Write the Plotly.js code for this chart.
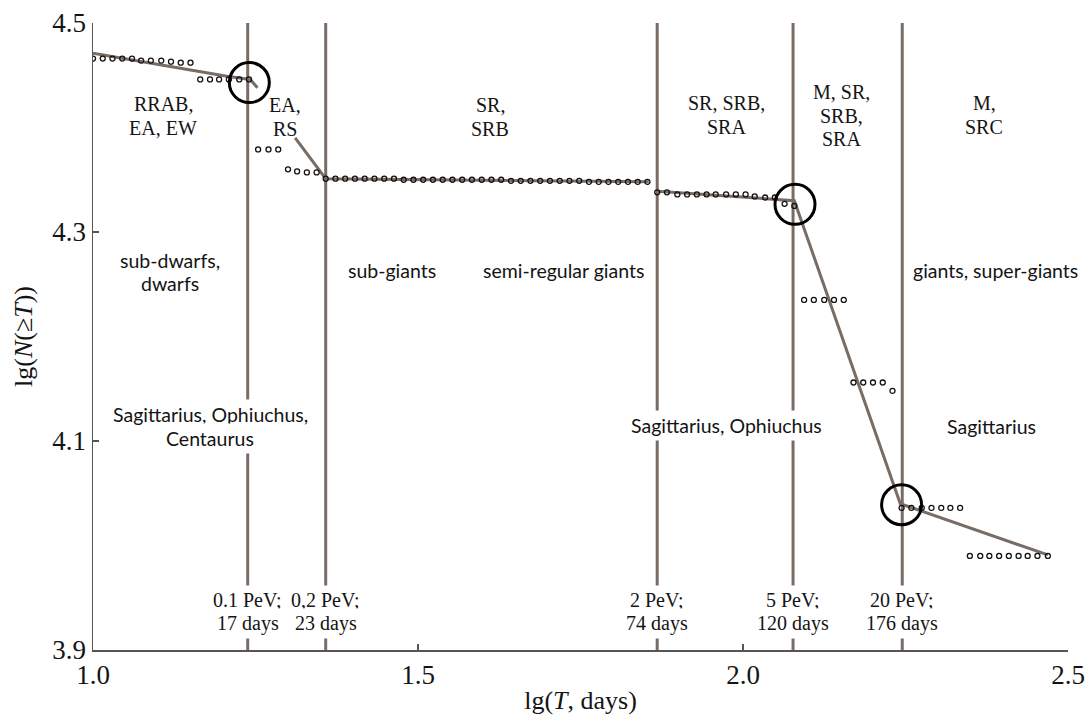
<!DOCTYPE html>
<html>
<head>
<meta charset="utf-8">
<script src="https://cdn.plot.ly/plotly-3.0.1.min.js"></script>
<style>html,body{margin:0;padding:0;background:#fff;}#chart{width:1091px;height:720px;}</style>
</head>
<body>
<div id="chart"></div>
<script>
// ---- data ----
const xTickVals = [1.0, 1.5, 2.0, 2.5];
const xTickText = ['1.0', '1.5', '2.0', '2.5'];
const yTickVals = [3.9, 4.1, 4.3, 4.5];
const yTickText = ['3.9', '4.1', '4.3', '4.5'];

// observed points lg(N(>=T)) vs lg(T)
const obsX = [
  1.000,1.015,1.030,1.045,1.060,1.074,1.089,1.105,1.120,1.135,1.150,
  1.165,1.180,1.194,1.209,1.225,1.240,
  1.254,1.270,1.285,
  1.300,1.314,1.329,1.344,
  1.358,1.373,1.388,1.403,1.418,1.433,1.448,1.463,1.478,1.493,1.508,1.523,1.538,1.553,1.568,1.583,1.598,
  1.613,1.628,1.643,1.658,1.673,1.688,1.703,1.718,1.733,1.748,1.763,1.778,1.793,1.808,1.823,1.838,1.853,
  1.868,1.883,1.899,1.914,1.929,1.944,1.958,1.974,1.989,2.004,2.018,2.034,2.049,2.064,2.079,
  2.094,2.109,2.125,2.140,2.155,
  2.170,2.185,2.200,2.215,2.230,
  2.244,2.259,2.275,2.290,2.305,2.319,2.334,
  2.349,2.365,2.379,2.394,2.409,2.424,2.438,2.453,2.469
];
const obsY = [
  4.466,4.466,4.466,4.466,4.466,4.464,4.464,4.464,4.463,4.462,4.462,
  4.446,4.446,4.446,4.446,4.446,4.446,
  4.379,4.379,4.379,
  4.360,4.358,4.357,4.357,
  4.351,4.351,4.351,4.351,4.351,4.351,4.351,4.351,4.350,4.350,4.350,4.350,4.350,4.350,4.350,4.350,4.350,
  4.350,4.350,4.349,4.349,4.349,4.349,4.349,4.349,4.349,4.349,4.348,4.348,4.348,4.348,4.348,4.348,4.348,
  4.338,4.338,4.336,4.336,4.336,4.336,4.336,4.336,4.336,4.336,4.334,4.333,4.333,4.327,4.325,
  4.235,4.235,4.235,4.235,4.235,
  4.156,4.156,4.156,4.156,4.148,
  4.036,4.036,4.036,4.036,4.036,4.036,4.036,
  3.990,3.990,3.990,3.990,3.990,3.990,3.990,3.990,3.990
];

// piecewise fitted line (null = break)
const fitX = [1.000, 1.206, 1.242, 1.253, null, 1.311, 1.358, 1.855, null, 1.868, 2.079, 2.242, 2.469];
const fitY = [4.471, 4.449, 4.446, 4.438, null, 4.390, 4.351, 4.348, null, 4.339, 4.330, 4.040, 3.991];

// break points marked by circles
const breakX = [1.2405, 2.080, 2.244];
const breakY = [4.443, 4.3265, 4.039];

// boundaries: lg(T) and their labels
const boundaryX = [1.238, 1.358, 1.868, 2.077, 2.245];
const boundaryText = [
  ['0.1 PeV;', '17 days'],
  ['0,2 PeV;', '23 days'],
  ['2 PeV;', '74 days'],
  ['5 PeV;', '120 days'],
  ['20 PeV;', '176 days']
];

// variable-star types per interval
const typeText = [
  ['RRAB,', 'EA, EW'],
  ['EA,', 'RS'],
  ['SR,', 'SRB'],
  ['SR, SRB,', 'SRA'],
  ['M, SR,', 'SRB,', 'SRA'],
  ['M,', 'SRC']
];
// star classes per interval
const classText = [
  ['sub-dwarfs,', 'dwarfs'],
  ['sub-giants'],
  ['semi-regular giants'],
  ['giants, super-giants']
];
// constellations
const skyText = [
  ['Sagittarius, Ophiuchus,', 'Centaurus'],
  ['Sagittarius, Ophiuchus'],
  ['Sagittarius']
];

// ---- presentation ----
const W = 1091, H = 720;
const M = {l: 93, r: 23, t: 23, b: 70};
const SERIF = 'Liberation Serif, Times New Roman, serif';
const SANS = 'Lato, Open Sans, sans-serif';
const LINE_C = '#786c64';
const TXT_C = '#141414';

// pixel -> data helpers for label placement only
const pw = W - M.l - M.r, ph = H - M.t - M.b;
const px2x = p => 1.0 + (p - M.l) / pw * 1.5;
const py2y = p => 4.5 - (p - M.t) / ph * 0.6;

const annotations = [];
function addBlock(lines, cx, cy, spacing, font, bg) {
  lines.forEach((t, i) => {
    const a = {
      x: px2x(cx), y: py2y(cy + i * spacing), xref: 'x', yref: 'y',
      text: t, showarrow: false, font: font,
      xanchor: 'center', yanchor: 'middle'
    };
    if (bg) { a.bgcolor = '#ffffff'; a.borderpad = 3; }
    annotations.push(a);
  });
}
const serifF = {family: SERIF, size: 20, color: TXT_C};
const sansF = {family: SANS, size: 19.5, color: TXT_C};

const typePos = [[163, 104], [285, 105], [490, 105], [726, 103], [841, 92], [984, 103]];
typeText.forEach((l, i) => addBlock(l, typePos[i][0], typePos[i][1], 23.5, serifF, false));
const classPos = [[170, 260], [392, 270], [563, 270], [995, 270]];
classText.forEach((l, i) => addBlock(l, classPos[i][0], classPos[i][1], 23.5, sansF, false));
const skyPos = [[210, 414], [726, 425], [991, 426]];
skyText.forEach((l, i) => addBlock(l, skyPos[i][0], skyPos[i][1], 24, sansF, true));
// boundary labels at bottom
boundaryText.forEach((l, i) => {
  l.forEach((t, j) => {
    annotations.push({
      x: boundaryX[i], y: py2y(600 + j * 23.5), xref: 'x', yref: 'y',
      text: t, showarrow: false, font: serifF,
      xanchor: 'center', yanchor: 'middle', bgcolor: '#ffffff', borderpad: 3
    });
  });
});

const shapes = boundaryX.map(bx => ({
  type: 'line', xref: 'x', yref: 'y', x0: bx, x1: bx, y0: 3.9, y1: 4.5,
  line: {color: LINE_C, width: 3}, layer: 'below'
}));

const traces = [
  {
    x: fitX, y: fitY, type: 'scatter', mode: 'lines', connectgaps: false,
    line: {color: LINE_C, width: 3}, hoverinfo: 'skip', showlegend: false
  },
  {
    x: obsX, y: obsY, type: 'scatter', mode: 'markers',
    marker: {symbol: 'circle-open', size: 5, color: '#111111', line: {width: 1.3, color: '#111111'}},
    showlegend: false
  },
  {
    x: breakX, y: breakY, type: 'scatter', mode: 'markers',
    marker: {symbol: 'circle-open', size: 40, color: '#000000', line: {width: 3, color: '#000000'}},
    showlegend: false
  }
];

const axisCommon = {
  showgrid: false, zeroline: false, showline: true, linecolor: '#555555', linewidth: 1.5,
  ticks: 'inside', ticklen: 6, tickwidth: 1.5, tickcolor: '#555555',
  tickmode: 'array', tickfont: {family: SERIF, size: 27, color: TXT_C}
};

const layout = {
  width: W, height: H, margin: M,
  paper_bgcolor: '#ffffff', plot_bgcolor: '#ffffff',
  showlegend: false,
  xaxis: Object.assign({}, axisCommon, {
    range: [1.0, 2.5], tickvals: xTickVals, ticktext: xTickText,
    title: {text: 'lg(<i>T</i>, days)', font: {family: SERIF, size: 26, color: TXT_C}, standoff: 2}
  }),
  yaxis: Object.assign({}, axisCommon, {
    range: [3.9, 4.5], tickvals: yTickVals, ticktext: yTickText,
    title: {text: 'lg(<i>N</i>(≥<i>T</i>))', font: {family: SERIF, size: 26, color: TXT_C}, standoff: 12}
  }),
  shapes: shapes,
  annotations: annotations
};

Plotly.newPlot('chart', traces, layout, {displayModeBar: false, staticPlot: true});
</script>
</body>
</html>
